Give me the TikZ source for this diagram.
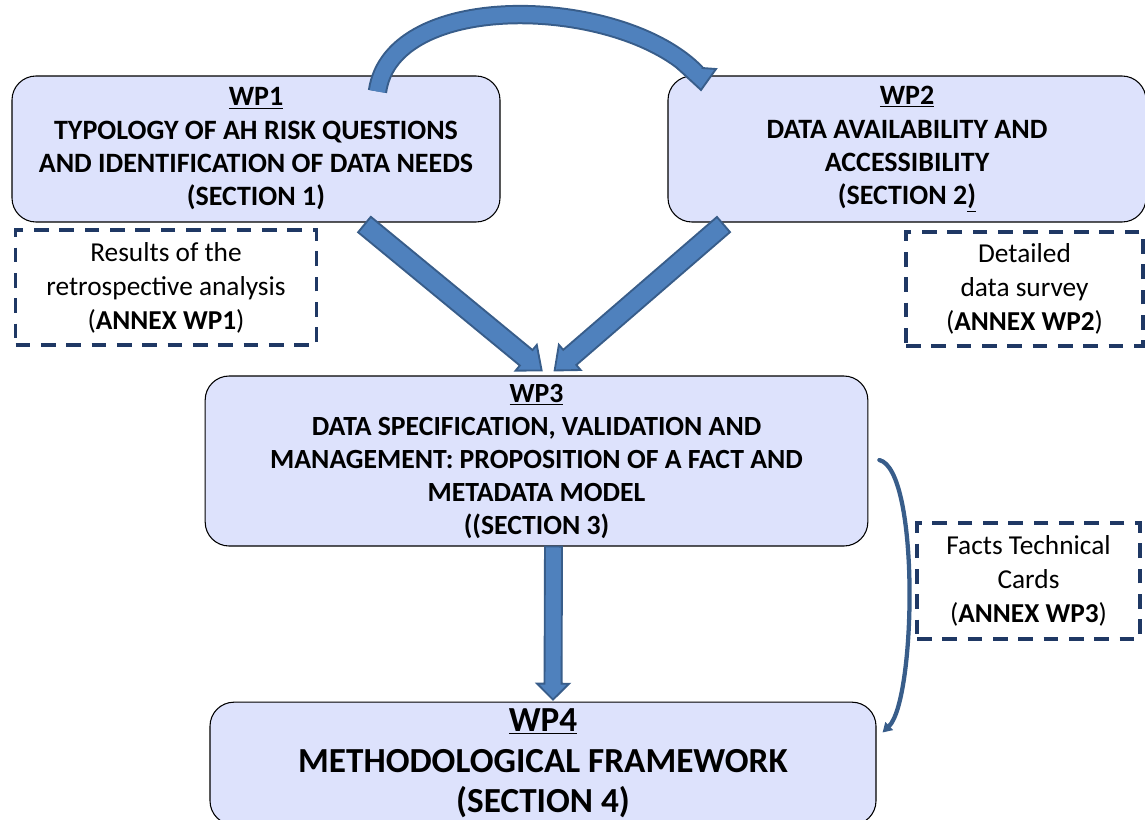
\documentclass[tikz,border=0pt]{standalone}
\usepackage{fontspec}
\setmainfont{Carlito}
\usetikzlibrary{calc,arrows.meta}

\definecolor{boxfill}{RGB}{221,226,252}
\definecolor{annexline}{RGB}{31,56,100}
\definecolor{arrowfill}{RGB}{79,129,189}
\definecolor{arrowline}{RGB}{56,93,138}

% Straight block arrow: start, end, half shaft width, half head width, head length
\newcommand\wpArrow[5]{%
  \coordinate (ba-h) at ($(#2)!#5!(#1)$);
  \filldraw[fill=arrowfill, draw=arrowline, line width=1.4pt, line join=miter]
    ($(#1)!#3!90:(#2)$) -- ($(ba-h)!#3!-90:(#1)$) -- ($(ba-h)!#4!-90:(#1)$)
    -- (#2) -- ($(ba-h)!#4!90:(#1)$) -- ($(ba-h)!#3!90:(#1)$)
    -- ($(#1)!#3!-90:(#2)$) -- cycle;}

\begin{document}
\begin{tikzpicture}[x=0.75pt, y=-0.75pt,
  wpbox/.style={draw=black, line width=0.8pt, fill=boxfill, rounded corners=18pt,
    align=center, inner sep=0pt, font=\bfseries\fontsize{21}{25}\selectfont},
  annexbox/.style={draw=annexline, line width=2.6pt, dash pattern=on 11pt off 8pt,
    align=center, inner sep=0pt, font=\fontsize{20.5}{25.5}\selectfont},
  link/.style={draw=arrowline, line width=3.2pt, line cap=round,
    -{Triangle[length=7pt, width=8pt, fill=arrowline]}}]

\useasboundingbox (0,0) rectangle (1145,819);
\clip (0,0) rectangle (1145,819);

% Work package boxes
\node[wpbox, minimum width=366pt, minimum height=109.5pt] (wp1) at (256,149)
  {\underline{WP1}\\TYPOLOGY OF AH RISK QUESTIONS\\AND IDENTIFICATION OF DATA NEEDS\\(SECTION 1)};
\node[wpbox, minimum width=358.5pt, minimum height=109.5pt] (wp2) at (907,149)
  {\underline{WP2}\\DATA AVAILABILITY AND\\ACCESSIBILITY\\(SECTION 2\underline{)}};
\node[wpbox, minimum width=497pt, minimum height=127.5pt,
  font=\bfseries\fontsize{20.8}{24.75}\selectfont] (wp3) at (536.5,461)
  {\underline{WP3}\\DATA SPECIFICATION, VALIDATION AND\\MANAGEMENT: PROPOSITION OF A FACT AND\\METADATA MODEL\\((SECTION 3)};
\node[wpbox, minimum width=499.5pt, minimum height=92pt,
  font=\bfseries\fontsize{26.4}{30.5}\selectfont] (wp4) at (543,763.5)
  {\underline{WP4}\\METHODOLOGICAL FRAMEWORK\\(SECTION 4)};

% Annex boxes
\node[annexbox, minimum width=225.75pt, minimum height=86.25pt] (an1) at (166,287.5)
  {Results of the\\retrospective analysis\\(\textbf{ANNEX WP1})};
\node[annexbox, minimum width=177.75pt, minimum height=85.5pt] (an2) at (1024.5,289)
  {Detailed\\data survey\\(\textbf{ANNEX WP2})};
\node[annexbox, minimum width=167.25pt, minimum height=87pt] (an3) at (1028.5,581)
  {Facts Technical\\Cards\\(\textbf{ANNEX WP3})};

% End points of the connectors
\coordinate (a1s) at ($(wp1.south west)+(353,2)$);
\coordinate (a1e) at ($(wp3.north west)+(337,-5)$);
\coordinate (a2s) at ($(wp2.south west)+(56,2)$);
\coordinate (a2e) at ($(wp3.north west)+(350,-5)$);
\coordinate (a3s) at ($(wp3.south)+(17,0)$);
\coordinate (a3e) at ($(wp4.north)+(10,-2)$);
\coordinate (t0) at ($(wp1.north west)+(366,16)$);
\coordinate (t1) at ($(wp2.north west)+(29,-2)$);
\coordinate (r0) at ($(wp3.east)+(11,-1)$);
\coordinate (r1) at ($(wp4.east)+(6,-31)$);

% WP1 -> WP2 curved block arrow
\draw[arrowline, line width=14.5pt] (t0) .. controls (392,-12) and (622,-4) .. (t1);
\filldraw[fill=arrowfill, draw=arrowline, line width=1.4pt, line join=miter]
  (675,66) -- (716,69) -- (701,90) -- cycle;
\draw[arrowfill, line width=11.5pt] (t0) .. controls (392,-12) and (622,-4) .. (t1);

% Block arrows into WP3 and WP4
\wpArrow{a1s}{a1e}{7.5pt}{12.5pt}{15pt}
\wpArrow{a2s}{a2e}{7.5pt}{12.5pt}{15pt}
\wpArrow{a3s}{a3e}{6.4pt}{12pt}{12pt}

% WP3 -> WP4 thin curved link
\draw[link] (r0) .. controls (920,470) and (916,700) .. (r1);

\end{tikzpicture}
\end{document}
